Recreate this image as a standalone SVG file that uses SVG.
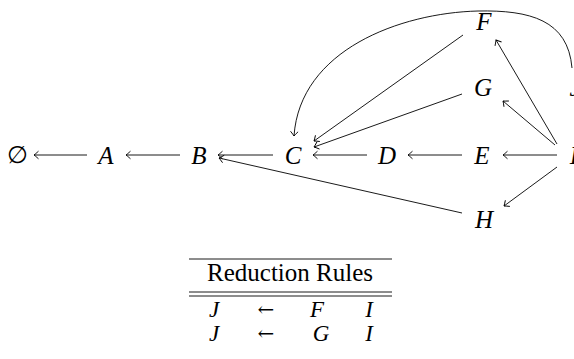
<svg xmlns="http://www.w3.org/2000/svg" width="574" height="359" viewBox="0 0 574 359">
<style>
.n{font-family:"Liberation Serif","Times New Roman",serif;font-style:italic;font-size:25px;fill:#000;text-anchor:middle}
.t{font-family:"Liberation Serif","Times New Roman",serif;font-style:italic;font-size:23px;fill:#000;text-anchor:middle}
.u{font-family:"Liberation Serif","Times New Roman",serif;font-size:25px;fill:#000;text-anchor:middle}
.s{font-family:"DejaVu Serif",serif;font-size:24px;fill:#000;text-anchor:middle}
.a{font-family:"DejaVu Serif",serif;font-size:20px;fill:#000;text-anchor:middle}
.c path{fill:none;stroke:#000;stroke-width:0.9}
.r{stroke:#000;stroke-width:0.9}
</style>
<defs>
<marker id="ah" markerUnits="userSpaceOnUse" markerWidth="12" markerHeight="12" refX="0" refY="0" viewBox="-6 -6 12 12" orient="auto" overflow="visible">
<path d="M-4.5,-3.8 Q-1.2,-0.8 0,0 Q-1.2,0.8 -4.5,3.8" fill="none" stroke="#000" stroke-width="0.9"/>
</marker>
</defs>
<g id="n-empty"><text class="s" x="17" y="163">∅</text></g>
<g id="n-A"><text class="n" x="106" y="164">A</text></g>
<g id="n-B"><text class="n" x="199" y="164">B</text></g>
<g id="n-C"><text class="n" x="293" y="164">C</text></g>
<g id="n-D"><text class="n" x="387" y="164">D</text></g>
<g id="n-E"><text class="n" x="482" y="164">E</text></g>
<g id="n-I"><text class="n" x="574" y="164">I</text></g>
<g id="n-F"><text class="n" x="484" y="30">F</text></g>
<g id="n-G"><text class="n" x="483" y="96">G</text></g>
<g id="n-H"><text class="n" x="484" y="228">H</text></g>
<g id="n-J"><text class="n" x="575" y="96">J</text></g>
<g id="connectors" class="c">
<path d="M87,155 L34,155" marker-end="url(#ah)"/>
<path d="M180,155 L126,155" marker-end="url(#ah)"/>
<path d="M273,155 L218,155" marker-end="url(#ah)"/>
<path d="M367,155 L313,155" marker-end="url(#ah)"/>
<path d="M462,155 L408,155" marker-end="url(#ah)"/>
<path d="M557,155 L503,155" marker-end="url(#ah)"/>
<path d="M462,213 L219,158" marker-end="url(#ah)"/>
<path d="M463,35 L314,141" marker-end="url(#ah)"/>
<path d="M462,94 L314,147" marker-end="url(#ah)"/>
<path d="M557,144 L496,40" marker-end="url(#ah)"/>
<path d="M555,145 L503,101" marker-end="url(#ah)"/>
<path d="M557,167 L504,206" marker-end="url(#ah)"/>
<path d="M572,68 C568,20 530,10 478,11 C400,13 300,50 294,136" marker-end="url(#ah)"/>
</g>
<g id="table">
<line class="r" x1="189" y1="259" x2="392" y2="259"/>
<text class="u" x="290" y="281">Reduction Rules</text>
<line class="r" x1="189" y1="292" x2="392" y2="292"/>
<line class="r" x1="189" y1="296" x2="392" y2="296"/>
<text class="t" x="214" y="317">J</text>
<text class="a" x="266" y="316">←</text>
<text class="t" x="317" y="317">F</text>
<text class="t" x="369" y="317">I</text>
<text class="t" x="214" y="341">J</text>
<text class="a" x="266" y="340">←</text>
<text class="t" x="321" y="341">G</text>
<text class="t" x="369" y="341">I</text>
</g>
</svg>
